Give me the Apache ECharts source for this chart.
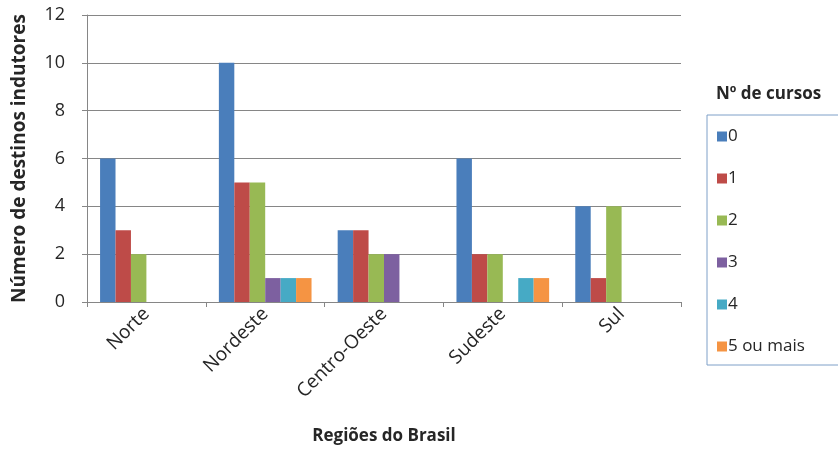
<!DOCTYPE html>
<html>
<head>
<meta charset="utf-8">
<script src="https://cdn.jsdelivr.net/npm/echarts@6/dist/echarts.min.js"></script>
<style>
html,body{margin:0;padding:0;background:#fff;}
#c{width:838px;height:461px;}
</style>
</head>
<body>
<div id="c"></div>
<script>
const categories = ["Norte", "Nordeste", "Centro-Oeste", "Sudeste", "Sul"];
const seriesNames = ["0", "1", "2", "3", "4", "5 ou mais"];
const s0 = [6, 10, 3, 6, 4];
const s1 = [3, 5, 3, 2, 1];
const s2 = [2, 5, 2, 2, 4];
const s3 = [0, 1, 2, 0, 0];
const s4 = [0, 1, 0, 1, 0];
const s5 = [0, 1, 0, 1, 0];
const yTicks = [0, 2, 4, 6, 8, 10, 12];
const colors = ["#4A7EBB", "#BE4B48", "#98B954", "#7D60A0", "#46AAC5", "#F59443"];

const allData = [s0, s1, s2, s3, s4, s5];
const font = "'Open Sans', 'Liberation Sans', sans-serif";
const txt = "#262626";
const chart = echarts.init(document.getElementById('c'));
chart.setOption({
  animation: false,
  color: colors,
  title: {
    text: "Nº de cursos",
    left: 711, top: 81,
    textStyle: {fontFamily: font, fontWeight: 'bold', fontSize: 17, color: txt}
  },
  legend: {
    orient: 'vertical',
    left: 707, top: 115,
    width: 110,
    padding: [13, 56, 10, 10],
    borderColor: '#7FA0C8',
    borderWidth: 1,
    itemWidth: 10, itemHeight: 10,
    itemGap: 25,
    icon: 'rect',
    data: seriesNames,
    textStyle: {fontFamily: font, fontSize: 17, color: txt, padding: [0,0,0,-4]}
  },
  grid: {left: 87, right: 157, top: 15, bottom: 159, containLabel: false},
  xAxis: {
    type: 'category',
    data: categories,
    name: "Regiões do Brasil",
    nameLocation: 'middle',
    nameGap: 126,
    nameTextStyle: {fontFamily: font, fontWeight: 'bold', fontSize: 17, color: txt},
    axisLine: {lineStyle: {color: '#868686', width: 1}},
    axisTick: {show: true, length: 5, lineStyle: {color: '#868686'}},
    axisLabel: {rotate: 45, fontFamily: font, fontSize: 19, color: txt, margin: 9}
  },
  yAxis: {
    type: 'value',
    min: 0, max: 12, interval: 2,
    name: "Número de destinos indutores",
    nameLocation: 'middle',
    nameGap: 58,
    nameTextStyle: {fontFamily: font, fontWeight: 'bold', fontSize: 19, color: txt},
    axisLine: {show: true, lineStyle: {color: '#868686', width: 1}},
    axisTick: {show: true, length: 5, lineStyle: {color: '#868686'}},
    splitLine: {lineStyle: {color: '#868686', width: 1}},
    axisLabel: {fontFamily: font, fontSize: 18, color: txt, margin: 22,
      formatter: v => yTicks.includes(v) ? String(v) : ''}
  },
  series: allData.map((d, i) => ({
    name: seriesNames[i],
    type: 'bar',
    data: d,
    barGap: '0%',
    barCategoryGap: '22%'
  }))
});
</script>
</body>
</html>
